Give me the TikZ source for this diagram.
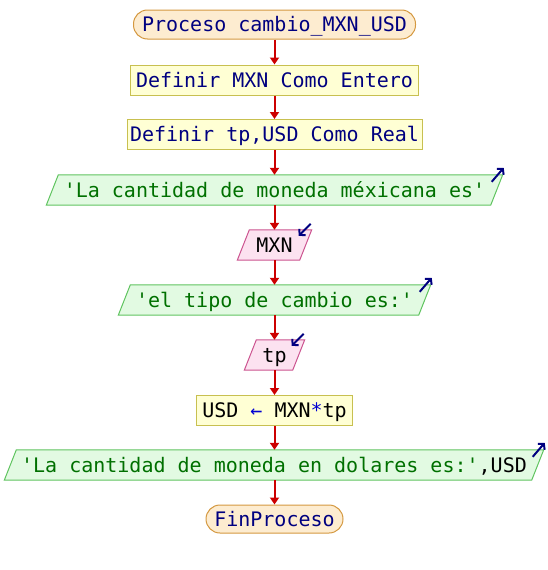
\documentclass[tikz,border=0pt]{standalone}
\usepackage{fontspec}
\setmonofont{DejaVu Sans Mono}
\usetikzlibrary{arrows.meta,calc,backgrounds}

\definecolor{termfill}{RGB}{253,236,208}
\definecolor{termline}{RGB}{212,152,64}
\definecolor{procfill}{RGB}{255,255,212}
\definecolor{procline}{RGB}{200,192,80}
\definecolor{outfill}{RGB}{226,250,226}
\definecolor{outline}{RGB}{96,196,96}
\definecolor{infill}{RGB}{252,226,240}
\definecolor{inline}{RGB}{204,84,144}
\definecolor{flowred}{RGB}{204,0,0}
\definecolor{kwnavy}{RGB}{0,0,128}
\definecolor{strgreen}{RGB}{0,112,0}
\definecolor{opblue}{RGB}{0,0,210}

% slanted data box drawn behind a plain node of the same size
\newcommand\slantshape[2]{%
  \begin{scope}[on background layer]
    \filldraw[#2] ($(#1.south west)+(-6,0)$) -- ($(#1.north west)+(6,0)$)
      -- ($(#1.north east)+(6,0)$) -- ($(#1.south east)+(-6,0)$) -- cycle;
  \end{scope}}

\begin{document}
\begin{tikzpicture}[x=1pt,y=-1pt,
  base/.style={font=\ttfamily\fontsize{20}{24}\selectfont, inner sep=0pt,
    minimum height=30, text height=14pt, text depth=0pt, anchor=center},
  term/.style={base, draw=termline, fill=termfill, line width=1pt,
    rounded corners=14, minimum height=29, text=kwnavy},
  proc/.style={base, draw=procline, fill=procfill, line width=1pt, text=kwnavy},
  outbox/.style={base, text=strgreen},
  inbox/.style={base, text=black},
  outshape/.style={draw=outline, fill=outfill, line width=1pt},
  inshape/.style={draw=inline, fill=infill, line width=1pt},
  flow/.style={draw=flowred, line width=2pt, -{Triangle[length=7pt,width=9pt]}},
  icon/.style={draw=kwnavy, line width=2pt, -{Straight Barb[length=4pt,width=9pt]}}]

\useasboundingbox (0,0) rectangle (548,570);

\node[term, minimum width=282] (start) at (274.5,24.5) {Proceso cambio\_MXN\_USD};
\node[proc, minimum width=288] (def1) at (274.5,80) {Definir MXN Como Entero};
\node[proc, minimum width=295] (def2) at (274.5,134.5) {Definir tp,USD Como Real};

\node[outbox, minimum width=444] (out1) at (274.5,190) {'La cantidad de moneda méxicana es'};
\slantshape{out1}{outshape}

\node[inbox, minimum width=62] (in1) at (274.5,245) {MXN};
\slantshape{in1}{inshape}

\node[outbox, minimum width=300] (out2) at (274.5,300) {'el tipo de cambio es:'};
\slantshape{out2}{outshape}

\node[inbox, minimum width=48] (in2) at (274.5,355) {tp};
\slantshape{in2}{inshape}

\node[proc, minimum width=156, text=black] (asg) at (274.5,410.5)
  {USD {\color{opblue}←} MXN{\color{opblue}*}tp};

\node[outbox, minimum width=527] (out3) at (274,465)
  {'La cantidad de moneda en dolares es:'{\color{black},USD}};
\slantshape{out3}{outshape}

\node[term, minimum width=137, minimum height=28] (fin) at (274.5,519) {FinProceso};

% flow connectors
\draw[flow] (start) -- (def1);
\draw[flow] (def1) -- (def2);
\draw[flow] (def2) -- (out1);
\draw[flow] (out1) -- (in1);
\draw[flow] (in1) -- (out2);
\draw[flow] (out2) -- (in2);
\draw[flow] (in2) -- (asg);
\draw[flow] (asg) -- (out3.north -| asg.south);
\draw[flow] (out3.south -| fin.north) -- (fin);

% output / input markers
\draw[icon] ($(out1.north east)+(-5,7)$) -- ++(12,-14);
\draw[icon] ($(out2.north east)+(-5,7)$) -- ++(12,-14);
\draw[icon] ($(out3.north east)+(-5,7)$) -- ++(12,-14);
\draw[icon] ($(in1.north east)+(5,-6)$) -- ++(-12,12);
\draw[icon] ($(in2.north east)+(5,-6)$) -- ++(-12,12);
\end{tikzpicture}
\end{document}
